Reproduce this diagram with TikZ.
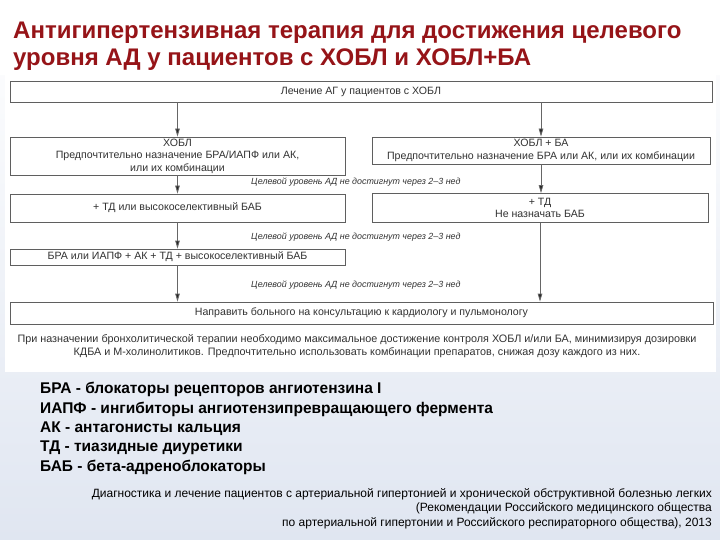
\documentclass[tikz,border=0pt]{standalone}
\usepackage{fontspec}
\setmainfont{Liberation Sans}
\usetikzlibrary{arrows.meta, positioning, calc}
\definecolor{titlered}{RGB}{150,20,24}
\definecolor{bgbottom}{RGB}{224,230,241}
\definecolor{flowtext}{RGB}{50,50,50}
\definecolor{flowline}{RGB}{95,95,95}

\begin{document}
\begin{tikzpicture}[x=1pt, y=-1pt,
  box/.style={draw=flowline, line width=0.8pt, fill=white, inner sep=0pt, align=center,
    text=flowtext, font=\fontsize{10.6}{12.5}\selectfont},
  goal/.style={anchor=west, inner sep=0pt, text=flowtext, font=\itshape\fontsize{8.9}{10}\selectfont},
  flow/.style={-{Triangle[length=8pt, width=4.5pt, fill=black!85]}, draw=black!60, line width=0.8pt},
  defn/.style={anchor=west, inner sep=0pt, align=left, font=\bfseries\fontsize{15.5}{19.3}\selectfont}]
% Background and white panel
\useasboundingbox (0,0) rectangle (720,540);
\shade[top color=white, bottom color=bgbottom] (0,0) rectangle (720,540);
\fill[white] (0,0) rectangle (720,75);
\fill[white] (5,75) rectangle (716,372);
% Title
\node[anchor=base west, inner sep=0pt, text=titlered, font=\bfseries\fontsize{24}{27}\selectfont] (title1) at (13,39) {Антигипертензивная терапия для достижения целевого};
\node[anchor=base west, inner sep=0pt, text=titlered, font=\bfseries\fontsize{24}{27}\selectfont] (title2) at (13,66) {уровня АД у пациентов с ХОБЛ и ХОБЛ+БА};
% Flow chart boxes
\node[box, minimum width=702pt, minimum height=21pt] (start) at (361,91.5) {Лечение АГ у пациентов с ХОБЛ};
\node[box, minimum width=335pt, minimum height=38pt] (copd) at (177.5,156) {ХОБЛ\\Предпочтительно назначение БРА/ИАПФ или АК,\\или их комбинации};
\node[box, minimum width=338pt, minimum height=27pt] (copdba) at (541,150.5) {ХОБЛ + БА\\Предпочтительно назначение БРА или АК, или их комбинации};
\node[box, minimum width=335pt, minimum height=28pt] (stepL) at (177.5,208) {+ ТД или высокоселективный БАБ};
\node[box, minimum width=336pt, minimum height=29pt] (stepR) at (540,208) {+ ТД\\Не назначать БАБ};
\node[box, minimum width=335pt, minimum height=16pt] (combo) at (177.5,257) {БРА или ИАПФ + АК + ТД + высокоселективный БАБ};
\node[box, minimum width=703pt, minimum height=22pt] (refer) at (361.5,313) {Направить больного на консультацию к кардиологу и пульмонологу};
% Goal not reached labels
\node[goal] (goal1) at (251,182) {Целевой уровень АД не достигнут через 2--3 нед};
\node[goal] (goal2) at (251,237) {Целевой уровень АД не достигнут через 2--3 нед};
\node[goal] (goal3) at (251,285) {Целевой уровень АД не достигнут через 2--3 нед};
% Arrows
\draw[flow] (start.south -| copd.north) -- (copd.north);
\draw[flow] (start.south -| copdba.north) -- (copdba.north);
\draw[flow] (copd.south) -- (stepL.north);
\draw[flow] (copdba.south) -- (copdba.south |- stepR.north);
\draw[flow] (stepL.south) -- (combo.north);
\draw[flow] (combo.south) -- (combo.south |- refer.north);
\draw[flow] (stepR.south) -- (stepR.south |- refer.north);
% Note under the chart
\node[align=center, inner sep=0pt, text=flowtext, font=\fontsize{10.8}{13}\selectfont] (note) at (357,346) {При назначении бронхолитической терапии необходимо максимальное достижение контроля ХОБЛ и/или БА, минимизируя дозировки\\КДБА и М-холинолитиков. Предпочтительно использовать комбинации препаратов, снижая дозу каждого из них.};
% Abbreviations
\node[defn] (abbr) at (40,428.5) {БРА - блокаторы рецепторов ангиотензина I\\ИАПФ - ингибиторы ангиотензипревращающего фермента\\АК - антагонисты кальция\\ТД - тиазидные диуретики\\БАБ - бета-адреноблокаторы};
% Source
\node[anchor=east, inner sep=0pt, align=right, font=\fontsize{12}{14.5}\selectfont] (source) at (712,508.5) {Диагностика и лечение пациентов с артериальной гипертонией и хронической обструктивной болезнью легких\\(Рекомендации Российского медицинского общества\\по артериальной гипертонии и Российского респираторного общества), 2013};
\end{tikzpicture}
\end{document}
